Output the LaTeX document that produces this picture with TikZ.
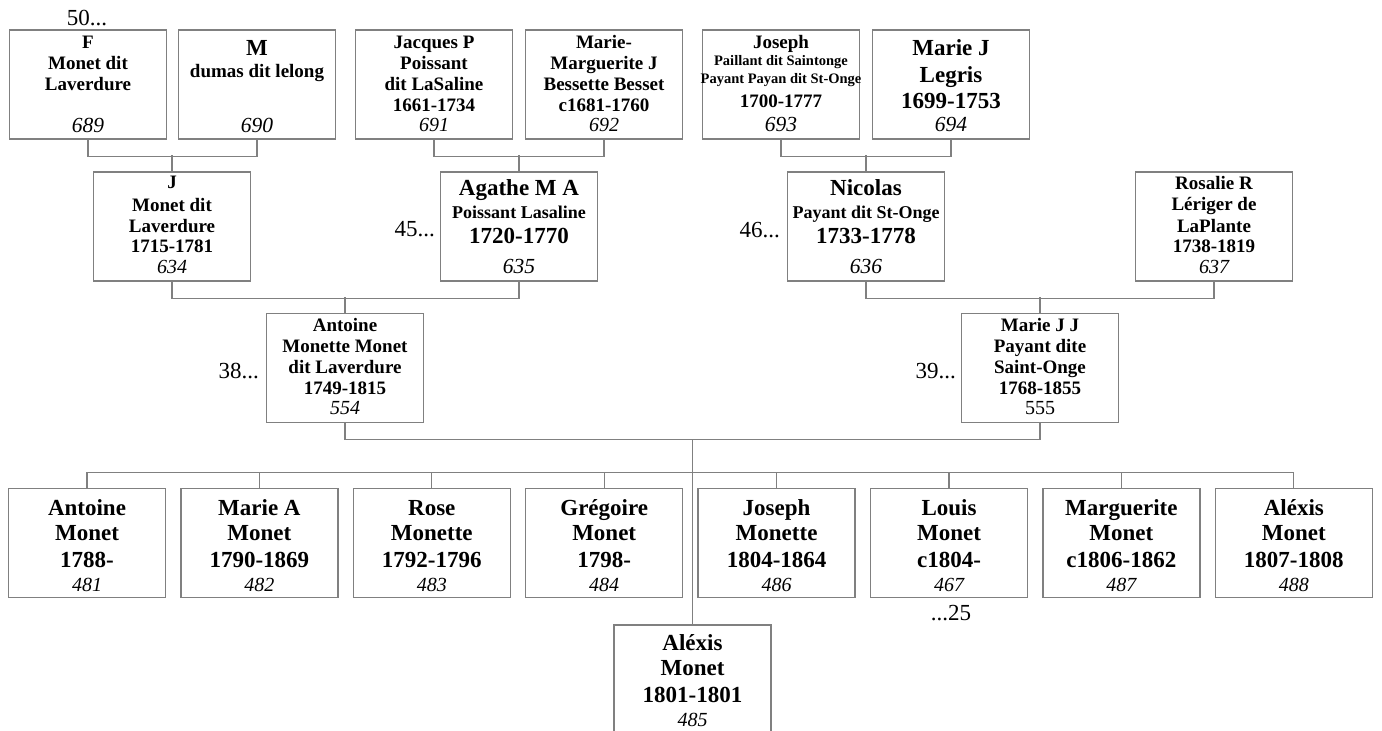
\documentclass[tikz,border=0pt]{standalone}
\usepackage{fontspec}
\setmainfont{Liberation Serif}
\usetikzlibrary{calc}
\definecolor{lc}{RGB}{128,128,128}
\tikzset{
 box/.style={draw=lc, line width=1.3pt, minimum width=157pt, minimum height=109pt, inner sep=0pt},
 conn/.style={draw=lc, line width=1.2pt},
 tx/.style={inner sep=0pt, anchor=base},
 nb/.style={tx, font=\fontsize{19}{21}\selectfont\bfseries},
 bb/.style={tx, font=\fontsize{23}{25}\selectfont\bfseries},
 sb/.style={tx, font=\fontsize{14.5}{16}\selectfont\bfseries},
 mb/.style={tx, font=\fontsize{18}{20}\selectfont\bfseries},
 num/.style={tx, font=\fontsize{20}{22}\selectfont\itshape},
 numt/.style={tx, font=\fontsize{21.5}{23}\selectfont\itshape},
 rn/.style={tx, font=\fontsize{20}{22}\selectfont},
 lab/.style={tx, font=\fontsize{23}{25}\selectfont},
}
\begin{document}
\begin{tikzpicture}[x=1pt,y=-1pt]
\useasboundingbox (0,0) rectangle (1382,731);
% ---------- generation 1 ----------
\node[box] (f689) at (88,84.5) {};
\node[box] (m690) at (257,84.5) {};
\node[box] (j691) at (434,84.5) {};
\node[box] (m692) at (604,84.5) {};
\node[box] (j693) at (781,84.5) {};
\node[box] (m694) at (951,84.5) {};
% ---------- generation 2 ----------
\node[box] (j634) at (172,226.5) {};
\node[box] (a635) at (519,226.5) {};
\node[box] (n636) at (866,226.5) {};
\node[box] (r637) at (1214,226.5) {};
% ---------- generation 3 ----------
\node[box] (a554) at (345,368) {};
\node[box] (m555) at (1040,368) {};
% ---------- children ----------
\node[box] (c481) at (87,543) {};
\node[box] (c482) at (259.4,543) {};
\node[box] (c483) at (431.8,543) {};
\node[box] (c484) at (604.2,543) {};
\node[box] (c486) at (776.6,543) {};
\node[box] (c467) at (949,543) {};
\node[box] (c487) at (1121.4,543) {};
\node[box] (c488) at (1293.8,543) {};
\begin{scope}
\clip (0,0) rectangle (1382,731);
\node[box, minimum height=130pt] (c485) at (692.5,690) {};
\end{scope}
% ---------- connectors ----------
\draw[conn] (f689.south) -- ++(0,17) -| (m690.south);
\draw[conn] (j634.north) -- ++(0,-16);
\draw[conn] (j691.south) -- ++(0,17) -| (m692.south);
\draw[conn] (a635.north) -- ++(0,-16);
\draw[conn] (j693.south) -- ++(0,17) -| (m694.south);
\draw[conn] (n636.north) -- ++(0,-16);
\draw[conn] (j634.south) -- ++(0,16.5) -| (a635.south);
\draw[conn] (a554.north) -- ++(0,-16);
\draw[conn] (n636.south) -- ++(0,16.5) -| (r637.south);
\draw[conn] (m555.north) -- ++(0,-16);
\draw[conn] (a554.south) -- ++(0,16.5) -| (m555.south);
\coordinate (fam) at ($(a554.south)!0.5!(m555.south)+(0,16.5)$);
\draw[conn] (fam) -- (c485.north);
\draw[conn] (c481.north) -- ++(0,-15) -| (c488.north);
\foreach \c in {c482,c483,c484,c486,c467,c487} \draw[conn] (\c.north) -- ++(0,-15);
% ---------- texts gen 1 ----------
\node[nb] (t689a) at (88,48) {F};
\node[nb] (t689b) at (88,69.5) {Monet dit};
\node[nb] (t689c) at (88,90.5) {Laverdure};
\node[numt] (t689d) at (88,132) {689};
\node[bb] (t690a) at (257,55) {M};
\node[nb] (t690b) at (257,77) {dumas dit lelong};
\node[numt] (t690c) at (257,132) {690};
\node[nb] (t691a) at (434,48) {Jacques P};
\node[nb] (t691b) at (434,69.5) {Poissant};
\node[nb] (t691c) at (434,90.5) {dit LaSaline};
\node[nb] (t691d) at (434,111) {1661-1734};
\node[num] (t691e) at (434,131) {691};
\node[nb] (t692a) at (604,48) {Marie-};
\node[nb] (t692b) at (604,69.5) {Marguerite J};
\node[nb] (t692c) at (604,90.5) {Bessette Besset};
\node[nb] (t692d) at (604,111) {c1681-1760};
\node[num] (t692e) at (604,131) {692};
\node[nb] (t693a) at (781,48) {Joseph};
\node[sb] (t693b) at (781,65) {Paillant dit Saintonge};
\node[sb] (t693c) at (781,83) {Payant Payan dit St-Onge};
\node[nb] (t693d) at (781,107) {1700-1777};
\node[numt] (t693e) at (781,131) {693};
\node[bb] (t694a) at (951,55) {Marie J};
\node[bb] (t694b) at (951,82) {Legris};
\node[bb] (t694c) at (951,108) {1699-1753};
\node[numt] (t694d) at (951,131) {694};
% ---------- texts gen 2 ----------
\node[nb] (t634a) at (172,188) {J};
\node[nb] (t634b) at (172,211) {Monet dit};
\node[nb] (t634c) at (172,232) {Laverdure};
\node[nb] (t634d) at (172,252) {1715-1781};
\node[num] (t634e) at (172,273) {634};
\node[bb] (t635a) at (519,195) {Agathe M A};
\node[mb] (t635b) at (519,218) {Poissant Lasaline};
\node[bb] (t635c) at (519,243) {1720-1770};
\node[numt] (t635d) at (519,273) {635};
\node[bb] (t636a) at (866,195) {Nicolas};
\node[mb] (t636b) at (866,218) {Payant dit St-Onge};
\node[bb] (t636c) at (866,243) {1733-1778};
\node[numt] (t636d) at (866,273) {636};
\node[nb] (t637a) at (1214,189) {Rosalie R};
\node[nb] (t637b) at (1214,210) {Lériger de};
\node[nb] (t637c) at (1214,232) {LaPlante};
\node[nb] (t637d) at (1214,252) {1738-1819};
\node[num] (t637e) at (1214,273) {637};
% ---------- texts gen 3 ----------
\node[nb] (t554a) at (345,331) {Antoine};
\node[nb] (t554b) at (345,352) {Monette Monet};
\node[nb] (t554c) at (345,373) {dit Laverdure};
\node[nb] (t554d) at (345,394) {1749-1815};
\node[num] (t554e) at (345,414) {554};
\node[nb] (t555a) at (1040,331) {Marie J J};
\node[nb] (t555b) at (1040,352) {Payant dite};
\node[nb] (t555c) at (1040,373) {Saint-Onge};
\node[nb] (t555d) at (1040,394) {1768-1855};
\node[rn] (t555e) at (1040,414) {555};
% ---------- children texts ----------
\foreach \n/\x/\a/\b/\c/\d in {
  c481/87/Antoine/Monet/1788-/481,
  c482/259.4/Marie A/Monet/1790-1869/482,
  c483/431.8/Rose/Monette/1792-1796/483,
  c484/604.2/Grégoire/Monet/1798-/484,
  c486/776.6/Joseph/Monette/1804-1864/486,
  c467/949/Louis/Monet/c1804-/467,
  c487/1121.4/Marguerite/Monet/c1806-1862/487,
  c488/1293.8/Aléxis/Monet/1807-1808/488}{
  \node[bb] (\n a) at (\x,515) {\a};
  \node[bb] (\n b) at (\x,540) {\b};
  \node[bb] (\n c) at (\x,567) {\c};
  \node[num] (\n d) at (\x,591) {\d};
}
\node[bb] (t485a) at (692.5,650) {Aléxis};
\node[bb] (t485b) at (692.5,675) {Monet};
\node[bb] (t485c) at (692.5,702) {1801-1801};
\node[num] (t485d) at (692.5,726) {485};
% ---------- side labels ----------
\node[lab] (l50) at (87,25) {50...};
\node[lab, anchor=base east] (l45) at (435,236) {45...};
\node[lab, anchor=base east] (l46) at (780,237) {46...};
\node[lab, anchor=base east] (l38) at (259,378) {38...};
\node[lab, anchor=base east] (l39) at (956,378) {39...};
\node[lab] (l25) at (951,620) {...25};
\end{tikzpicture}
\end{document}
